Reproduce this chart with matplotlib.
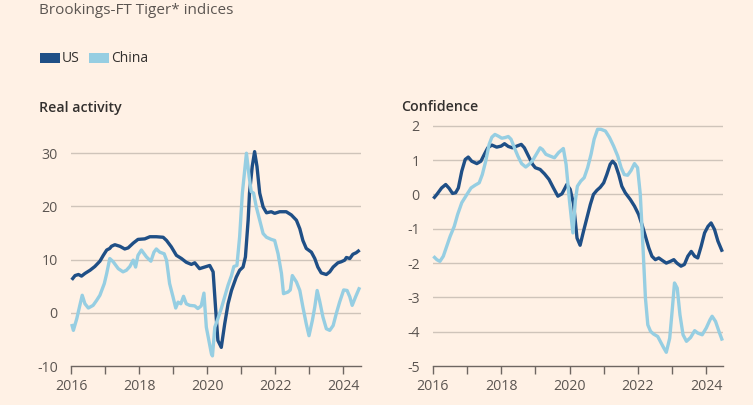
import matplotlib
matplotlib.use("Agg")
import matplotlib.pyplot as plt
from matplotlib.patches import Rectangle

# ---------------- data (decimal years) ----------------
act_us_t = [2016.02, 2016.12, 2016.22, 2016.31, 2016.41, 2016.56, 2016.70, 2016.85, 2016.95,
            2017.05, 2017.14, 2017.19, 2017.29, 2017.44, 2017.58, 2017.68, 2017.83, 2017.97,
            2018.17, 2018.32, 2018.51, 2018.71, 2018.81, 2018.95, 2019.10, 2019.25, 2019.39,
            2019.54, 2019.64, 2019.78, 2019.93, 2020.08, 2020.18, 2020.25, 2020.32, 2020.42,
            2020.52, 2020.62, 2020.72, 2020.86, 2020.96, 2021.06, 2021.13, 2021.21, 2021.25,
            2021.33, 2021.40, 2021.47, 2021.55, 2021.65, 2021.75, 2021.89, 2021.99, 2022.14,
            2022.33, 2022.48, 2022.63, 2022.73, 2022.82, 2022.92, 2023.07, 2023.17, 2023.26,
            2023.36, 2023.51, 2023.61, 2023.71, 2023.85, 2023.95, 2024.05, 2024.10, 2024.20,
            2024.29, 2024.39, 2024.49]
act_us_v = [6.2, 7.0, 7.2, 6.9, 7.4, 8.0, 8.7, 9.7, 10.8,
            11.8, 12.1, 12.5, 12.8, 12.5, 12.0, 12.2, 13.1, 13.8,
            13.9, 14.3, 14.3, 14.2, 13.6, 12.4, 10.8, 10.2, 9.5,
            9.1, 9.4, 8.3, 8.6, 8.9, 7.7, 1.1, -5.2, -6.5,
            -2.1, 1.7, 4.2, 6.7, 8.0, 8.6, 10.5, 17.4, 22.5,
            27.5, 30.3, 27.5, 22.5, 19.9, 18.8, 19.0, 18.7, 19.0,
            19.0, 18.4, 17.4, 15.8, 13.6, 12.1, 11.4, 10.2, 8.6,
            7.5, 7.2, 7.7, 8.6, 9.4, 9.6, 9.9, 10.4, 10.2,
            11.0, 11.3, 11.8]

act_cn_t = [2016.02, 2016.07, 2016.17, 2016.26, 2016.33, 2016.41, 2016.51, 2016.65, 2016.75,
            2016.85, 2016.98, 2017.05, 2017.14, 2017.24, 2017.39, 2017.53, 2017.63, 2017.73,
            2017.83, 2017.90, 2017.97, 2018.07, 2018.22, 2018.35, 2018.44, 2018.51, 2018.61,
            2018.74, 2018.81, 2018.90, 2019.00, 2019.08, 2019.15, 2019.23, 2019.31, 2019.39,
            2019.49, 2019.64, 2019.73, 2019.83, 2019.91, 2019.98, 2020.13, 2020.16, 2020.23,
            2020.32, 2020.42, 2020.52, 2020.62, 2020.72, 2020.79, 2020.88, 2020.96, 2021.04,
            2021.16, 2021.24, 2021.30, 2021.37, 2021.45, 2021.55, 2021.65, 2021.75, 2021.89,
            2021.99, 2022.09, 2022.19, 2022.25, 2022.38, 2022.45, 2022.51, 2022.63, 2022.73,
            2022.82, 2022.92, 2023.00, 2023.10, 2023.17, 2023.24, 2023.31, 2023.41, 2023.51,
            2023.61, 2023.71, 2023.80, 2023.90, 2024.02, 2024.12, 2024.20, 2024.27, 2024.37,
            2024.49]
act_cn_v = [-2.1, -3.3, -1.1, 1.4, 3.3, 1.7, 0.9, 1.4, 2.3,
            3.3, 5.5, 7.4, 10.2, 9.6, 8.3, 7.7, 8.0, 8.7,
            9.9, 8.6, 10.8, 11.8, 10.5, 9.7, 11.4, 12.0, 11.4,
            11.1, 9.9, 5.5, 3.0, 0.9, 2.0, 1.7, 3.1, 1.7,
            1.4, 1.3, 0.8, 1.3, 3.7, -2.7, -7.7, -8.1, -2.7,
            -1.1, 0.8, 3.0, 5.2, 7.0, 8.7, 8.9, 14.3, 22.5,
            30.0, 25.6, 22.8, 22.5, 19.9, 17.4, 14.9, 14.2, 13.8,
            13.6, 11.1, 7.4, 3.6, 3.9, 4.3, 7.0, 5.8, 4.2,
            1.1, -2.1, -4.3, -1.4, 1.1, 4.2, 2.3, -0.8, -3.0,
            -3.3, -2.4, -0.2, 2.0, 4.3, 4.2, 3.0, 1.4, 3.0,
            4.8]

conf_us_t = [2016.02, 2016.12, 2016.26, 2016.38, 2016.48, 2016.58, 2016.67, 2016.75, 2016.85,
             2016.95, 2017.04, 2017.14, 2017.29, 2017.41, 2017.51, 2017.61, 2017.73, 2017.87,
             2018.00, 2018.10, 2018.21, 2018.33, 2018.46, 2018.59, 2018.68, 2018.80, 2018.92,
             2019.00, 2019.14, 2019.27, 2019.40, 2019.53, 2019.66, 2019.78, 2019.87, 2019.92,
             2020.02, 2020.12, 2020.22, 2020.31, 2020.41, 2020.51, 2020.61, 2020.70, 2020.80,
             2020.90, 2021.00, 2021.09, 2021.19, 2021.26, 2021.34, 2021.44, 2021.53, 2021.63,
             2021.78, 2021.90, 2022.02, 2022.12, 2022.22, 2022.32, 2022.41, 2022.51, 2022.61,
             2022.71, 2022.83, 2022.95, 2023.05, 2023.14, 2023.26, 2023.36, 2023.46, 2023.56,
             2023.66, 2023.75, 2023.85, 2023.95, 2024.05, 2024.14, 2024.24, 2024.34, 2024.47]
conf_us_v = [-0.12, 0.00, 0.19, 0.29, 0.18, 0.03, 0.05, 0.19, 0.68,
             1.02, 1.09, 0.97, 0.90, 0.97, 1.17, 1.36, 1.44, 1.38,
             1.41, 1.48, 1.40, 1.36, 1.41, 1.46, 1.36, 1.12, 0.88,
             0.78, 0.73, 0.60, 0.44, 0.19, -0.05, 0.02, 0.19, 0.29,
             0.15, -0.29, -1.27, -1.48, -1.07, -0.68, -0.29, 0.00, 0.12,
             0.21, 0.34, 0.58, 0.88, 0.97, 0.88, 0.58, 0.24, 0.05,
             -0.15, -0.34, -0.58, -0.88, -1.22, -1.56, -1.80, -1.90, -1.85,
             -1.92, -2.00, -1.95, -1.90, -2.00, -2.09, -2.04, -1.80, -1.66,
             -1.80, -1.85, -1.51, -1.12, -0.93, -0.83, -1.02, -1.36, -1.67]

conf_cn_t = [2016.02, 2016.12, 2016.21, 2016.31, 2016.41, 2016.51, 2016.63, 2016.73, 2016.85,
             2017.00, 2017.12, 2017.24, 2017.36, 2017.45, 2017.55, 2017.65, 2017.73, 2017.82,
             2017.92, 2018.02, 2018.12, 2018.21, 2018.29, 2018.39, 2018.49, 2018.60, 2018.72,
             2018.82, 2018.92, 2019.04, 2019.14, 2019.21, 2019.31, 2019.43, 2019.56, 2019.68,
             2019.82, 2019.90, 2020.00, 2020.10, 2020.17, 2020.23, 2020.33, 2020.43, 2020.53,
             2020.63, 2020.72, 2020.82, 2020.92, 2021.05, 2021.17, 2021.29, 2021.41, 2021.51,
             2021.60, 2021.70, 2021.80, 2021.90, 2021.99, 2022.07, 2022.15, 2022.22, 2022.29,
             2022.37, 2022.46, 2022.58, 2022.68, 2022.76, 2022.83, 2022.93, 2023.00, 2023.07,
             2023.15, 2023.23, 2023.32, 2023.42, 2023.54, 2023.66, 2023.75, 2023.88, 2024.00,
             2024.11, 2024.17, 2024.27, 2024.37, 2024.47]
conf_cn_v = [-1.80, -1.90, -1.95, -1.80, -1.51, -1.22, -0.93, -0.58, -0.24,
             0.00, 0.19, 0.27, 0.34, 0.58, 0.97, 1.46, 1.67, 1.75,
             1.70, 1.64, 1.66, 1.69, 1.61, 1.36, 1.12, 0.90, 0.80,
             0.88, 0.99, 1.19, 1.36, 1.31, 1.17, 1.12, 1.07, 1.22,
             1.34, 0.88, -0.19, -1.12, -0.19, 0.24, 0.39, 0.49, 0.78,
             1.17, 1.61, 1.90, 1.90, 1.85, 1.66, 1.41, 1.12, 0.78,
             0.58, 0.56, 0.70, 0.90, 0.78, 0.00, -1.56, -3.02, -3.80,
             -3.99, -4.07, -4.14, -4.33, -4.48, -4.60, -4.19, -3.41, -2.58,
             -2.73, -3.51, -4.09, -4.28, -4.17, -3.97, -4.04, -4.09, -3.89,
             -3.65, -3.55, -3.70, -3.99, -4.26]

year_ticks = [2016, 2017, 2018, 2019, 2020, 2021, 2022, 2023, 2024]
year_labels = ["2016", "", "2018", "", "2020", "", "2022", "", "2024"]
act_yticks = [-10, 0, 10, 20, 30]
conf_yticks = [-5, -4, -3, -2, -1, 0, 1, 2]
series_names = ["US", "China"]

# ---------------- style ----------------
BG = "#FFF1E5"
US_C = "#1F4F86"
CN_C = "#96CEE2"
GRID_C = "#CFC4BA"
AXIS_C = "#6E6661"
TXT_C = "#5B5551"
DARK_C = "#33302E"
FONT = ["Open Sans", "DejaVu Sans"]

plt.rcParams["font.family"] = FONT
plt.rcParams["axes.unicode_minus"] = False

W, H = 753, 405
fig = plt.figure(figsize=(W / 100, H / 100), dpi=100, facecolor=BG)


def px_axes(x0, x1, y_top, y_bot):
    return fig.add_axes([x0 / W, (H - y_bot) / H, (x1 - x0) / W, (y_bot - y_top) / H])


def style(ax, yticks, ylim, xlim):
    ax.set_facecolor(BG)
    ax.set_xlim(*xlim)
    ax.set_ylim(*ylim)
    for s in ["left", "right", "top"]:
        ax.spines[s].set_visible(False)
    ax.spines["bottom"].set_color(AXIS_C)
    ax.spines["bottom"].set_linewidth(1.0)
    ax.set_yticks(yticks)
    ax.set_yticklabels([str(v) for v in yticks])
    ax.tick_params(axis="y", length=0, pad=9.5, labelsize=10.2, labelcolor=TXT_C)
    ax.set_xticks(year_ticks)
    ax.set_xticklabels(year_labels)
    ax.tick_params(axis="x", length=6, width=1.0, color=AXIS_C, pad=3,
                   labelsize=10.2, labelcolor=TXT_C, direction="out")
    for v in yticks[1:]:
        ax.axhline(v, color=GRID_C, lw=1.0, zorder=1)


def plot_lines(ax, t_us, v_us, t_cn, v_cn):
    ax.plot(t_us, v_us, color=US_C, lw=2.4, solid_joinstyle="round",
            solid_capstyle="butt", zorder=3, clip_on=False)
    ax.plot(t_cn, v_cn, color=CN_C, lw=2.4, solid_joinstyle="round",
            solid_capstyle="butt", zorder=4, clip_on=False)


# left panel: Real activity
ax1 = px_axes(71, 361, 147.9, 366)
style(ax1, act_yticks, (-10, 31), (2016, 2016 + 290 / 34.0))
plot_lines(ax1, act_us_t, act_us_v, act_cn_t, act_cn_v)

# right panel: Confidence
ax2 = px_axes(432.7, 722.7, 119, 366)
style(ax2, conf_yticks, (-5, 2.2), (2016, 2016 + 290 / 34.2))
plot_lines(ax2, conf_us_t, conf_us_v, conf_cn_t, conf_cn_v)

# titles
fig.text(39 / W, 1 - 11 / H, "Brookings-FT Tiger* indices", fontsize=11.0,
         color=TXT_C, va="center", ha="left")
fig.text(39 / W, 1 - 108 / H, "Real activity", fontsize=10.2, color=DARK_C,
         fontweight="semibold", va="center", ha="left")
fig.text(401 / W, 1 - 107 / H, "Confidence", fontsize=10.2, color=DARK_C,
         fontweight="semibold", va="center", ha="left")

# legend
leg_items = [(40, US_C, series_names[0], 62), (89, CN_C, series_names[1], 111)]
for x0, c, name, tx in leg_items:
    fig.patches.append(Rectangle((x0 / W, 1 - 62.7 / H), 20 / W, 9.4 / H,
                                 transform=fig.transFigure, facecolor=c,
                                 edgecolor="none"))
    fig.text(tx / W, 1 - 58.5 / H, name, fontsize=10.0, color=DARK_C,
             va="center", ha="left")

fig.savefig("out.png", dpi=100, facecolor=BG)
